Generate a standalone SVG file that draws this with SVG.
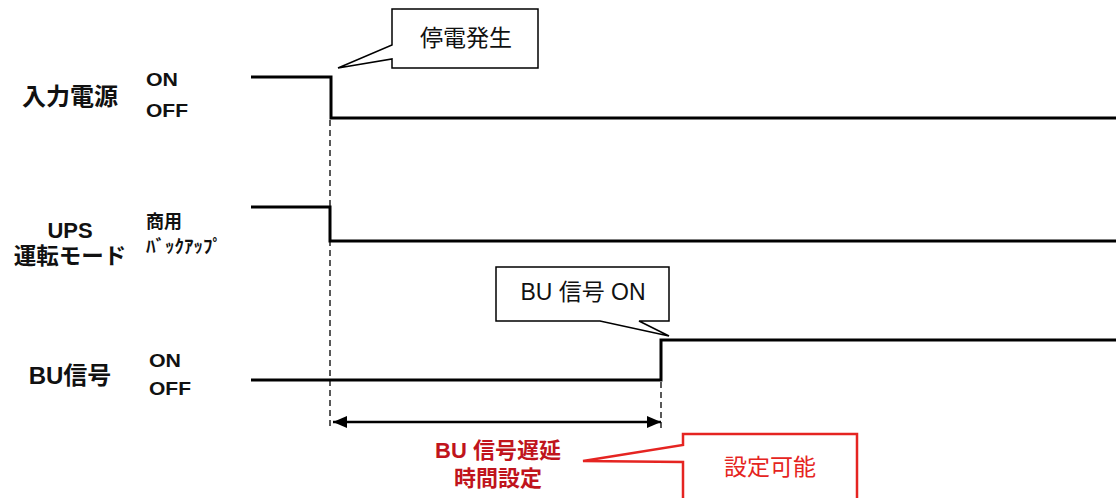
<svg xmlns="http://www.w3.org/2000/svg" width="1116" height="498" viewBox="0 0 1116 498">
<style>
.sig{fill:none;stroke:#000;stroke-width:3}
.dash{fill:none;stroke:#000;stroke-width:1.3;stroke-dasharray:6 4}
.lbl{font-family:"Liberation Sans","Noto Sans CJK JP",sans-serif;font-weight:bold;fill:#111}
.st{font-family:"Liberation Sans","Noto Sans CJK JP",sans-serif;font-weight:bold;font-size:18px;fill:#111}
.co{fill:#fff;stroke:#000;stroke-width:1.5}
.cot{font-family:"Liberation Sans","Noto Sans CJK JP",sans-serif;font-size:23px;fill:#111}
.red{fill:#fff;stroke:#e52421;stroke-width:2.5}
</style>
<defs>
<marker id="ah" viewBox="0 0 14 12" refX="14" refY="6" markerWidth="14" markerHeight="12" markerUnits="userSpaceOnUse" orient="auto-start-reverse">
<path d="M0,0 L14,6 L0,12 Z" fill="#000"/>
</marker>
</defs>
<rect width="1116" height="498" fill="#fff"/>
<g id="labels">
<text class="lbl" x="70" y="105" font-size="24" text-anchor="middle">入力電源</text>
<text class="lbl" x="70" y="238" font-size="22" text-anchor="middle">UPS</text>
<text class="lbl" x="70" y="264" font-size="22.5" text-anchor="middle">運転モード</text>
<text class="lbl" x="70" y="384" font-size="24" text-anchor="middle">BU信号</text>
<text class="st" x="146" y="86" textLength="32" lengthAdjust="spacingAndGlyphs">ON</text>
<text class="st" x="146" y="117" textLength="42" lengthAdjust="spacingAndGlyphs">OFF</text>
<text class="st" x="146" y="228">商用</text>
<text class="st" x="146" y="253" textLength="76" lengthAdjust="spacingAndGlyphs">ﾊﾞｯｸｱｯﾌﾟ</text>
<text class="st" x="149" y="367" textLength="32" lengthAdjust="spacingAndGlyphs">ON</text>
<text class="st" x="149" y="395" textLength="42" lengthAdjust="spacingAndGlyphs">OFF</text>
</g>
<g id="connectors">
<path class="sig" d="M251,77 H331 V118 H1116"/>
<path class="sig" d="M251,207 H330 V241 H1116"/>
<path class="sig" d="M251,380 H661 V340 H1116"/>
<line class="dash" x1="330" y1="120" x2="330" y2="429"/>
<line class="dash" x1="661" y1="382" x2="661" y2="429"/>
<line x1="333" y1="422" x2="661" y2="422" stroke="#000" stroke-width="2.5" marker-start="url(#ah)" marker-end="url(#ah)"/>
</g>
<g id="callout-teiden">
<path class="co" d="M392,9 H538 V68 H392 V59 L338,68 L392,45 Z"/>
<text class="cot" x="466" y="46" text-anchor="middle">停電発生</text>
</g>
<g id="callout-bu-on">
<path class="co" d="M496,267 H669 V321 H639 L669,336 L600,321 H496 Z"/>
<text class="cot" x="583" y="300" text-anchor="middle" font-size="22">BU 信号 ON</text>
</g>
<g id="delay-label">
<text class="lbl" x="498" y="458" font-size="22" text-anchor="middle" style="fill:#c0141c">BU 信号遅延</text>
<text class="lbl" x="498" y="486" font-size="22" text-anchor="middle" style="fill:#c0141c">時間設定</text>
</g>
<g id="callout-settable">
<path class="red" d="M683,500 V462 L583,461 L683,445 V434 H857 V500"/>
<text class="cot" x="770" y="475" text-anchor="middle" style="fill:#e52421">設定可能</text>
</g>
</svg>
